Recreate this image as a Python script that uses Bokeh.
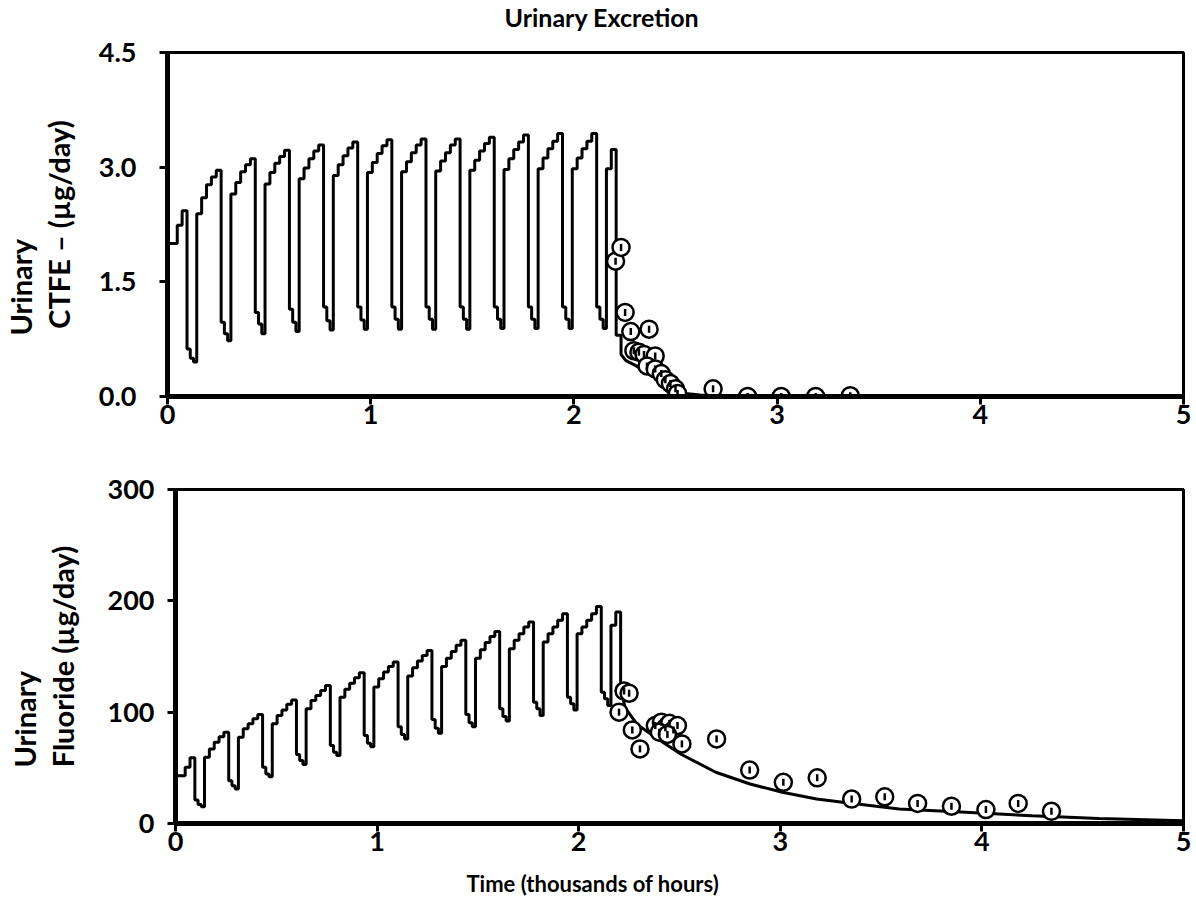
import numpy as np
from bokeh.plotting import figure
from bokeh.layouts import column
from bokeh.models import Range1d, FixedTicker, Title, NumeralTickFormatter
from bokeh.embed import file_html
from bokeh.resources import INLINE

FONT = "Lato"
TICK_FS = "27px"
YLAB_FS = "29px"

# ---------------- data ----------------
x_ticks = [0, 1, 2, 3, 4, 5]
ctfe_ticks = [0.0, 1.5, 3.0, 4.5]
fluoride_ticks = [0, 100, 200, 300]

# exposure schedule: each exposure day lasts 24 h, each weekend 48 h (3 model steps of 16 h)
day_hours = 24
weekend_step_hours = 16

# Urinary CTFE model (ug/day): daily values during exposure weeks
ctfe_exposure = [
    [2.00, 2.00, 2.24, 2.43],
    [2.39, 2.60, 2.77, 2.87, 2.96],
    [2.65, 2.80, 2.94, 3.03, 3.11],
    [2.78, 2.93, 3.05, 3.14, 3.22],
    [2.85, 2.99, 3.11, 3.21, 3.29],
    [2.89, 3.03, 3.15, 3.25, 3.33],
    [2.93, 3.06, 3.18, 3.28, 3.36],
    [2.94, 3.07, 3.19, 3.29, 3.37],
    [2.95, 3.08, 3.19, 3.29, 3.37],
    [2.96, 3.09, 3.21, 3.31, 3.39],
    [2.97, 3.11, 3.23, 3.33, 3.42],
    [2.98, 3.12, 3.24, 3.34, 3.44],
    [2.98, 3.12, 3.24, 3.34, 3.44],
    [2.98, 3.23],
]
ctfe_weekend = [
    [0.62, 0.50, 0.45],
    [0.97, 0.82, 0.73],
    [1.10, 0.95, 0.82],
    [1.14, 0.97, 0.85],
    [1.17, 0.99, 0.87],
    [1.17, 1.00, 0.88],
    [1.17, 1.01, 0.88],
    [1.17, 1.01, 0.88],
    [1.17, 1.01, 0.88],
    [1.17, 1.01, 0.89],
    [1.17, 1.01, 0.89],
    [1.17, 1.01, 0.89],
    [1.17, 1.01, 0.89],
]
# post-exposure model decay (thousands of hours, ug/day)
ctfe_decay_t = [2.208, 2.232, 2.232, 2.256, 2.30, 2.35, 2.40, 2.45, 2.50, 2.55, 2.62, 2.80, 3.50, 5.00]
ctfe_decay_v = [0.80, 0.80, 0.55, 0.47, 0.41, 0.33, 0.25, 0.17, 0.09, 0.04, 0.02, 0.01, 0.00, 0.00]
# measured CTFE
ctfe_obs_t = [2.205, 2.232, 2.252, 2.280, 2.370, 2.295, 2.320, 2.345, 2.400, 2.360,
              2.400, 2.430, 2.450, 2.475, 2.500, 2.510, 2.685, 2.855, 3.020, 3.190, 3.360]
ctfe_obs_v = [1.77, 1.95, 1.10, 0.85, 0.88, 0.60, 0.58, 0.55, 0.53, 0.40,
              0.36, 0.30, 0.22, 0.17, 0.10, 0.04, 0.10, 0.00, 0.00, 0.00, 0.01]

# Urinary fluoride model (ug/day)
fluoride_exposure = [
    [43, 43, 50.5, 59],
    [59.5, 67, 73, 78, 82],
    [77.5, 85, 89.5, 94, 98],
    [89.5, 97, 102, 107, 111],
    [103, 110.5, 115, 119.5, 124],
    [113.5, 120.5, 126, 131, 135.5],
    [122.5, 130, 136, 141, 145],
    [132.5, 140, 146, 151, 155.5],
    [141, 148.5, 154.5, 160, 164.5],
    [148.5, 156, 162.5, 168, 172.5],
    [157, 164.5, 170.5, 176.5, 181],
    [163, 170.5, 176.5, 182.5, 188.5],
    [170.5, 176.5, 182.5, 188.5, 195],
    [178, 190],
]
fluoride_weekend = [
    [21, 17, 15],
    [38.5, 34, 31],
    [50.5, 44.5, 42],
    [62, 56.5, 53],
    [70, 64, 61],
    [79, 72, 69],
    [87, 80, 76],
    [93.5, 85.5, 81],
    [98, 90.5, 87],
    [103, 96, 92],
    [109, 103, 97],
    [113.5, 107.5, 102],
    [118, 112, 106],
]
fluoride_decay_t = [2.208, 2.23, 2.29, 2.40, 2.51, 2.68, 2.85, 3.01, 3.18, 3.31, 3.59, 3.92, 4.25, 4.58, 5.00]
fluoride_decay_v = [122, 104, 89, 75, 62, 46, 35.5, 28, 22, 19, 13, 10, 7, 4.5, 2.5]
fluoride_obs_t = [2.200, 2.225, 2.250, 2.266, 2.304, 2.380, 2.410, 2.430, 2.450, 2.470, 2.490,
                  2.400, 2.440, 2.512, 2.684, 2.848, 3.015, 3.183, 3.354, 3.518, 3.681,
                  3.849, 4.020, 4.180, 4.345]
fluoride_obs_v = [100, 119, 117, 84, 67, 88, 91, 86, 90, 84, 88,
                  82, 80, 71.5, 76, 48, 37, 41, 22, 24, 18,
                  15.5, 12.5, 18, 11]


def build_steps(expo, weekend, decay_t, decay_v):
    xs, ys = [0.0], [0.0]
    t = 0.0
    for k, days in enumerate(expo):
        for v in days:
            xs += [t, t + day_hours]
            ys += [v, v]
            t += day_hours
        if k < len(weekend):
            for v in weekend[k]:
                xs += [t, t + weekend_step_hours]
                ys += [v, v]
                t += weekend_step_hours
    xs = [x / 1000.0 for x in xs] + list(decay_t)
    ys = ys + list(decay_v)
    return xs, ys


def style(p, yticks):
    p.background_fill_color = "white"
    p.border_fill_color = "white"
    p.outline_line_color = "black"
    p.outline_line_width = 3
    p.xgrid.visible = False
    p.ygrid.visible = False
    for ax in (p.xaxis[0], p.yaxis[0]):
        ax.axis_line_width = 5
        ax.axis_line_color = "black"
        ax.major_tick_line_width = 3
        ax.major_tick_line_color = "black"
        ax.major_tick_in = 0
        ax.major_tick_out = 8
        ax.minor_tick_line_color = None
        ax.major_label_text_font = FONT
        ax.major_label_text_font_style = "bold"
        ax.major_label_text_font_size = TICK_FS
        ax.major_label_text_color = "black"
        ax.axis_label_text_font = FONT
        ax.axis_label_text_font_style = "bold"
        ax.axis_label_text_font_size = YLAB_FS
        ax.axis_label_text_color = "black"
    p.xaxis[0].ticker = FixedTicker(ticks=x_ticks)
    p.yaxis[0].ticker = FixedTicker(ticks=yticks)
    p.xaxis[0].major_label_standoff = 0


def add_obs(p, xs, ys):
    p.scatter(xs, ys, marker="circle", size=17, fill_color="white",
              line_color="black", line_width=2.5)
    p.scatter(xs, ys, marker="dash", angle=np.pi / 2, size=7,
              line_color="black", line_width=2.5)


# ---------------- top panel ----------------
p1 = figure(width=1196, height=440, x_range=Range1d(0, 5), y_range=Range1d(0, 4.5),
            output_backend="svg", toolbar_location=None,
            min_border_left=163, min_border_right=13, min_border_top=52, min_border_bottom=44)
p1.frame_align = False
style(p1, ctfe_ticks)
p1.title.text = "Urinary Excretion\n "
p1.title.text_font = FONT
p1.title.text_font_style = "bold"
p1.title.text_font_size = "25px"
p1.title.text_color = "black"
p1.title.text_line_height = 0.6
p1.title.align = "left"
p1.title.vertical_align = "top"
p1.title.offset = 337
p1.title.standoff = 2
p1.yaxis[0].major_label_standoff = 23
p1.yaxis[0].formatter = NumeralTickFormatter(format="0.0")
p1.yaxis[0].axis_label = "CTFE – (µg/day)"
p1.yaxis[0].axis_label_standoff = 20
p1.add_layout(Title(text="Urinary", text_font=FONT, text_font_style="bold", text_color="black",
                    text_font_size=YLAB_FS, align="left", offset=61, standoff=0), "left")

x1, y1 = build_steps(ctfe_exposure, ctfe_weekend, ctfe_decay_t, ctfe_decay_v)
p1.line(x1, y1, line_color="black", line_width=3)
add_obs(p1, ctfe_obs_t, ctfe_obs_v)

# ---------------- bottom panel ----------------
p2 = figure(width=1196, height=458, x_range=Range1d(0, 5), y_range=Range1d(0, 300),
            output_backend="svg", toolbar_location=None,
            min_border_left=175, min_border_right=13, min_border_top=49, min_border_bottom=75)
p2.frame_align = False
style(p2, fluoride_ticks)
p2.yaxis[0].major_label_standoff = 13
p2.yaxis[0].axis_label = "Fluoride (µg/day)"
p2.yaxis[0].axis_label_standoff = 25
p2.add_layout(Title(text="Urinary", text_font=FONT, text_font_style="bold", text_color="black",
                    text_font_size=YLAB_FS, align="left", offset=56, standoff=0), "left")
p2.add_layout(Title(text=" \nTime (thousands of hours)", text_font=FONT, text_font_style="bold",
                    text_color="black", text_font_size="22px", text_line_height=0.55,
                    align="left", offset=291, standoff=0, vertical_align="bottom"), "below")

x2, y2 = build_steps(fluoride_exposure, fluoride_weekend, fluoride_decay_t, fluoride_decay_v)
p2.line(x2, y2, line_color="black", line_width=3)
add_obs(p2, fluoride_obs_t, fluoride_obs_v)

layout = column(p1, p2, spacing=0)
open("out.html", "w").write(file_html(layout, INLINE))
